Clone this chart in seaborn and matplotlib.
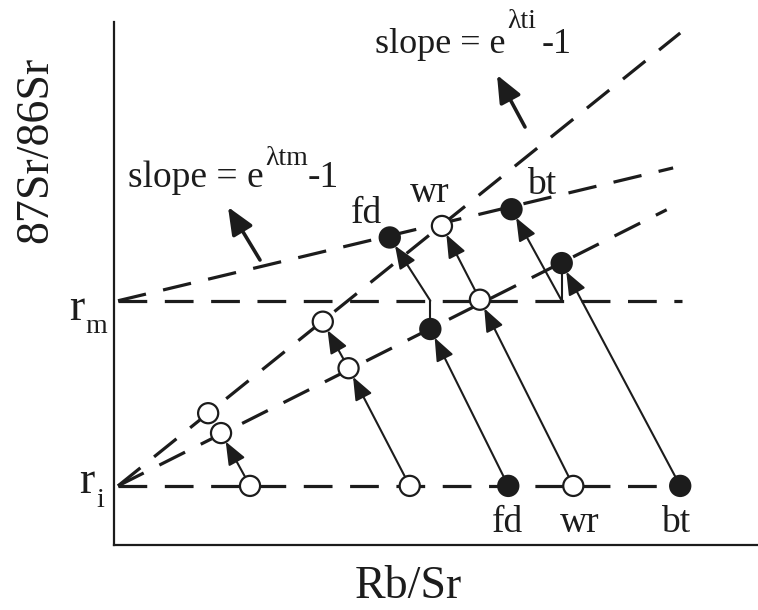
import matplotlib
matplotlib.use("Agg")
import matplotlib.pyplot as plt
import seaborn as sns
import pandas as pd

# initial (ti) and metamorphic (tm) 87Sr/86Sr
r_i = 1.13
r_m = 4.67

minerals = ["m1", "m2", "fd", "wr", "bt"]
is_filled = [False, False, True, False, True]
reset_at_tm = [False, False, True, False, True]
second_arrow = [False, True, True, True, True]

# Rb/Sr, 87Sr/86Sr at crystallisation
x_ti = [2.05, 4.53, 6.06, 7.07, 8.73]
y_ti = [r_i, r_i, r_i, r_i, r_i]
# at metamorphism, before re-equilibration
x_tm = [1.60, 3.58, 4.85, 5.62, 6.89]
y_tm = [2.14, 3.38, 4.13, 4.69, 5.39]
# today
x_now = [1.40, 3.18, 4.22, 5.03, 6.11]
y_now = [2.52, 4.27, 5.88, 6.10, 6.42]

# dashed reference lines: r_i, r_m, ti isochron, tm isochron (old), tm isochron (today)
ref_x0 = [0, 0, 0, 0, 0]
ref_y0 = [r_i, r_m, r_i, r_i, r_m]
ref_x1 = [8.73, 8.76, 8.73, 8.52, 8.62]
ref_y1 = [r_i, r_m, 9.79, 6.41, 7.21]

W, H = 758, 610
INK = "#1c1c1c"

sns.set_style("white")
plt.rcParams["font.family"] = ["Liberation Serif", "DejaVu Serif"]


def px(x, y):
    # figure pixel (from top left) -> figure fraction
    return x / W, (H - y) / H


fig = plt.figure(figsize=(W / 100, H / 100), dpi=100)
ax = fig.add_axes([114 / W, 65 / H, 644 / W, 523 / H])

for x0, y0, x1, y1 in zip(ref_x0, ref_y0, ref_x1, ref_y1):
    sns.lineplot(x=[x0, x1], y=[y0, y1], ax=ax, color=INK, lw=2.3,
                 linestyle=(0, (9, 5.5)), zorder=1)

arrow_kw = dict(arrowstyle="-|>,head_length=0.7,head_width=0.28",
                mutation_scale=20, lw=1.5, color=INK, shrinkA=0, shrinkB=7)

for i in range(len(minerals)):
    ax.annotate("", xy=(x_tm[i], y_tm[i]), xytext=(x_ti[i], y_ti[i]),
                arrowprops=arrow_kw, zorder=2)
    start_y = y_tm[i]
    if reset_at_tm[i]:
        ax.plot([x_tm[i], x_tm[i]], [y_tm[i], r_m], color=INK, lw=1.5, zorder=2)
        start_y = r_m
    if second_arrow[i]:
        ax.annotate("", xy=(x_now[i], y_now[i]), xytext=(x_tm[i], start_y),
                    arrowprops=arrow_kw, zorder=2)

pts = pd.DataFrame({
    "x": x_ti + x_tm + x_now,
    "y": y_ti + y_tm + y_now,
    "fill": ["closed" if f else "open" for f in is_filled] * 3,
})
sns.scatterplot(data=pts, x="x", y="y", hue="fill",
                palette={"closed": INK, "open": "white"},
                s=210, edgecolor=INK, linewidth=1.6, legend=False, ax=ax, zorder=3)

ax.set_xlim(-4 / 64.4, 640 / 64.4)
ax.set_ylim(0, 10)
ax.set_xticks([])
ax.set_yticks([])
ax.set_xlabel("")
ax.set_ylabel("")
for side in ["top", "right"]:
    ax.spines[side].set_visible(False)
for side in ["left", "bottom"]:
    ax.spines[side].set_color(INK)
    ax.spines[side].set_linewidth(1.6)

# axis titles
fig.text(*px(408, 598), "Rb/Sr", ha="center", va="baseline", fontsize=33, color=INK)
fig.text(*px(47, 150), "87Sr/86Sr", rotation=90, rotation_mode="anchor",
         ha="center", va="baseline", fontsize=33, color=INK)

# r_m and r_i
fig.text(*px(69, 320), "r", ha="left", va="baseline", fontsize=33, color=INK)
fig.text(*px(85, 333), "m", ha="left", va="baseline", fontsize=20, color=INK)
fig.text(*px(79, 493), "r", ha="left", va="baseline", fontsize=33, color=INK)
fig.text(*px(96, 507), "i", ha="left", va="baseline", fontsize=20, color=INK)

# mineral labels
for name, cx in zip(["fd", "wr", "bt"], [507, 580, 676]):
    fig.text(*px(cx, 532), name, ha="center", va="baseline", fontsize=27, color=INK)
for name, cx, by in zip(["fd", "wr", "bt"], [367, 430, 542], [223, 202, 194]):
    fig.text(*px(cx, by), name, ha="center", va="baseline", fontsize=27, color=INK)

# slope annotations
fig.text(*px(128, 187), "slope = e", ha="left", va="baseline", fontsize=27, color=INK)
fig.text(*px(265, 165), "λtm", ha="left", va="baseline", fontsize=20, color=INK)
fig.text(*px(308, 187), "-1", ha="left", va="baseline", fontsize=27, color=INK)
fig.text(*px(375, 53), "slope = e", ha="left", va="baseline", fontsize=26, color=INK)
fig.text(*px(507, 28), "λti", ha="left", va="baseline", fontsize=20, color=INK)
fig.text(*px(542, 53), "-1", ha="left", va="baseline", fontsize=26, color=INK)

slope_arrow = dict(arrowstyle="-|>,head_length=0.75,head_width=0.32",
                   mutation_scale=22, lw=2.6, color=INK, shrinkA=0, shrinkB=0)
ax.annotate("", xy=(228, H - 207), xytext=(260, H - 260), xycoords="figure pixels",
            textcoords="figure pixels", arrowprops=slope_arrow)
ax.annotate("", xy=(497, H - 75), xytext=(525, H - 127), xycoords="figure pixels",
            textcoords="figure pixels", arrowprops=slope_arrow)

fig.savefig("out.png", dpi=100)
